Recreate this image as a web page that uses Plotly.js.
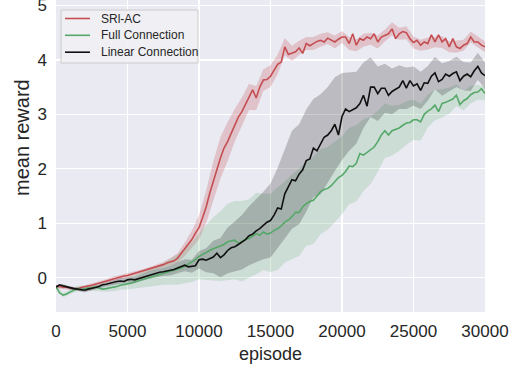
<!DOCTYPE html>
<html>
<head>
<meta charset="utf-8">
<script src="https://cdn.plot.ly/plotly-3.0.1.min.js"></script>
<style>html,body{margin:0;padding:0;background:#fff;}#chart{width:520px;height:365px;}</style>
</head>
<body>
<div id="chart"></div>
<script>
// episode grid for the mean curves (every 250 episodes) and the bands (every 500)
const STEP = 250;
const seriesNames = ["SRl-AC", "Full Connection", "Linear Connection"];
const xTickVals = [0, 5000, 10000, 15000, 20000, 25000, 30000];
const xTickText = ["0", "5000", "10000", "15000", "20000", "25000", "30000"];
const yTickVals = [0, 1, 2, 3, 4, 5];
const yTickText = ["0", "1", "2", "3", "4", "5"];

const srlMean = [
 -0.17,-0.15,-0.18,-0.17,-0.19,-0.20,-0.21,-0.18,-0.17,-0.16,
 -0.14,-0.12,-0.10,-0.08,-0.06,-0.04,-0.02,0.00,0.01,0.03,
 0.04,0.06,0.08,0.10,0.11,0.13,0.15,0.17,0.19,0.22,
 0.24,0.27,0.29,0.31,0.36,0.44,0.52,0.60,0.70,0.82,
 0.92,1.10,1.30,1.55,1.78,2.00,2.20,2.38,2.50,2.65,
 2.80,2.95,3.05,3.18,3.32,3.45,3.30,3.50,3.63,3.64,
 3.70,3.82,3.92,3.96,4.24,4.10,4.12,4.15,4.22,4.12,
 4.30,4.26,4.30,4.34,4.36,4.33,4.40,4.36,4.33,4.38,
 4.42,4.42,4.30,4.48,4.27,4.39,4.36,4.42,4.39,4.48,
 4.33,4.42,4.45,4.48,4.57,4.39,4.48,4.52,4.50,4.39,
 4.32,4.36,4.27,4.33,4.30,4.46,4.33,4.46,4.33,4.39,
 4.24,4.39,4.24,4.21,4.27,4.30,4.42,4.33,4.33,4.27,
 4.24];
const fullMean = [
 -0.17,-0.28,-0.32,-0.30,-0.26,-0.23,-0.20,-0.22,-0.20,-0.19,
 -0.19,-0.17,-0.19,-0.21,-0.20,-0.19,-0.18,-0.16,-0.14,-0.13,
 -0.11,-0.10,-0.08,-0.06,-0.05,-0.03,-0.01,0.01,0.03,0.05,
 0.07,0.09,0.11,0.13,0.15,0.18,0.21,0.25,0.28,0.33,
 0.39,0.43,0.46,0.50,0.53,0.56,0.58,0.61,0.66,0.67,
 0.69,0.63,0.67,0.70,0.72,0.77,0.81,0.78,0.84,0.80,
 0.82,0.87,0.90,0.95,1.02,1.06,1.12,1.20,1.20,1.30,
 1.36,1.40,1.42,1.50,1.58,1.62,1.64,1.69,1.76,1.84,
 1.88,1.95,2.05,2.04,2.10,2.28,2.25,2.30,2.34,2.40,
 2.50,2.62,2.70,2.62,2.70,2.72,2.75,2.80,2.84,2.85,
 2.90,2.90,2.86,3.00,3.06,3.10,3.17,3.05,3.20,3.22,
 3.25,3.28,3.35,3.18,3.25,3.29,3.36,3.40,3.41,3.47,
 3.38];
const linearMean = [
 -0.17,-0.13,-0.15,-0.17,-0.19,-0.20,-0.21,-0.22,-0.23,-0.21,
 -0.20,-0.18,-0.16,-0.13,-0.12,-0.10,-0.09,-0.07,-0.06,-0.07,
 -0.04,-0.03,-0.04,-0.02,0.01,0.03,0.05,0.06,0.08,0.10,
 0.11,0.12,0.13,0.15,0.18,0.21,0.23,0.20,0.21,0.22,
 0.33,0.34,0.32,0.35,0.38,0.45,0.37,0.42,0.50,0.55,
 0.57,0.61,0.65,0.70,0.77,0.80,0.86,0.90,0.96,1.02,
 1.05,1.15,1.28,1.26,1.54,1.66,1.80,1.78,1.90,1.98,
 2.15,2.18,2.38,2.33,2.45,2.58,2.62,2.70,2.82,2.62,
 2.96,3.10,3.05,3.08,3.12,3.20,3.35,3.15,3.50,3.50,
 3.38,3.48,3.48,3.35,3.42,3.46,3.50,3.62,3.48,3.62,
 3.52,3.56,3.44,3.58,3.57,3.70,3.76,3.60,3.64,3.74,
 3.70,3.75,3.78,3.62,3.70,3.74,3.69,3.80,3.88,3.76,
 3.71];

// band half-widths, one every 500 episodes
const srlSpread = [
 0.03,0.03,0.03,0.03,0.03,0.03,0.03,0.03,0.04,0.04,
 0.04,0.04,0.04,0.04,0.05,0.05,0.07,0.09,0.12,0.16,
 0.22,0.30,0.36,0.38,0.36,0.30,0.26,0.24,0.22,0.20,
 0.20,0.18,0.16,0.14,0.13,0.12,0.12,0.12,0.11,0.12,
 0.11,0.12,0.11,0.12,0.11,0.12,0.11,0.12,0.11,0.12,
 0.11,0.10,0.11,0.10,0.11,0.10,0.11,0.10,0.10,0.10,
 0.10];
const fullSpread = [
 0.03,0.04,0.04,0.05,0.05,0.05,0.06,0.06,0.07,0.08,
 0.10,0.12,0.14,0.16,0.18,0.20,0.24,0.28,0.32,0.36,
 0.42,0.50,0.58,0.64,0.70,0.72,0.74,0.72,0.75,0.70,
 0.72,0.76,0.74,0.78,0.80,0.78,0.80,0.78,0.76,0.74,
 0.72,0.70,0.70,0.66,0.62,0.56,0.50,0.46,0.42,0.40,
 0.37,0.34,0.30,0.28,0.26,0.24,0.20,0.18,0.16,0.14,
 0.12];
const linearSpread = [
 0.03,0.03,0.03,0.03,0.04,0.04,0.04,0.04,0.05,0.05,
 0.05,0.06,0.06,0.07,0.07,0.08,0.09,0.10,0.11,0.12,
 0.16,0.22,0.30,0.36,0.42,0.46,0.50,0.54,0.58,0.62,
 0.68,0.74,0.82,0.90,0.92,0.94,0.90,0.92,0.88,0.86,
 0.80,0.72,0.66,0.60,0.55,0.50,0.45,0.42,0.40,0.38,
 0.36,0.34,0.32,0.30,0.30,0.28,0.28,0.26,0.26,0.25,
 0.24];

const colors = ["#C44E52", "#55A868", "#111111"];
const fills = ["rgba(196,78,82,0.25)", "rgba(85,168,104,0.20)", "rgba(0,0,0,0.20)"];

const ep = srlMean.map((_, i) => i * STEP);
function band(mean, spread, fill) {
  const bx = [], hi = [], lo = [];
  spread.forEach((s, k) => { bx.push(ep[2 * k]); hi.push(mean[2 * k] + s); lo.push(mean[2 * k] - s); });
  return {x: bx.concat(bx.slice().reverse()), y: hi.concat(lo.slice().reverse()),
    type: "scatter", mode: "lines", fill: "toself", fillcolor: fill,
    line: {width: 0}, hoverinfo: "skip", showlegend: false};
}
function line(mean, name, color) {
  return {x: ep, y: mean, type: "scatter", mode: "lines", name: name,
    line: {color: color, width: 1.6}, showlegend: false};
}
const means = [srlMean, fullMean, linearMean];
const spreads = [srlSpread, fullSpread, linearSpread];
const traces = [];
for (let i = 0; i < 3; i++) traces.push(band(means[i], spreads[i], fills[i]));
for (let i = 0; i < 3; i++) traces.push(line(means[i], seriesNames[i], colors[i]));

// plot box in pixels: left 56, right 485, top 0, bottom 312
const L = 56, R = 485, T = 0, B = 312;
const px = v => (v - L) / (R - L);
const py = v => (B - v) / (B - T);

const font = {family: "Liberation Sans, Arial, sans-serif", color: "#262626"};
const shapes = [{type: "rect", xref: "paper", yref: "paper", x0: px(61), x1: px(198), y0: py(63), y1: py(10),
  fillcolor: "rgba(240,240,245,0.85)", line: {color: "#CCCCCC", width: 1}, layer: "above"}];
const annotations = [];
const rowY = [18.5, 35.3, 52.2];
for (let i = 0; i < 3; i++) {
  shapes.push({type: "line", xref: "paper", yref: "paper", x0: px(65), x1: px(90), y0: py(rowY[i]), y1: py(rowY[i]),
    line: {color: colors[i], width: 1.6}, layer: "above"});
  annotations.push({xref: "paper", yref: "paper", x: px(99), y: py(rowY[i]), xanchor: "left", yanchor: "middle",
    text: seriesNames[i], showarrow: false, font: Object.assign({size: 12}, font)});
}
annotations.push({xref: "paper", yref: "paper", x: px(22), y: py(138), xanchor: "center", yanchor: "middle",
  text: "mean reward", textangle: -90, showarrow: false, font: Object.assign({size: 20}, font)});

const layout = {
  width: 520, height: 365,
  margin: {l: L, r: 520 - R, t: T, b: 365 - B, pad: 0},
  paper_bgcolor: "#ffffff", plot_bgcolor: "#EAEAF2",
  font: Object.assign({size: 17}, font),
  showlegend: false,
  shapes: shapes, annotations: annotations,
  xaxis: {range: [0, 30000], tickvals: xTickVals, ticktext: xTickText, ticks: "", showgrid: true,
    gridcolor: "#ffffff", gridwidth: 1.3, zeroline: false, showline: false,
    tickfont: Object.assign({size: 17}, font), ticklabelstandoff: 7,
    title: {text: "episode", font: Object.assign({size: 18}, font), standoff: 7}},
  yaxis: {range: [-0.63, 5.1], tickvals: yTickVals, ticktext: yTickText, ticks: "", showgrid: true,
    gridcolor: "#ffffff", gridwidth: 1.3, zeroline: false, showline: false,
    ticklabeloverflow: "allow",
    tickfont: Object.assign({size: 17}, font), ticklabelstandoff: 8}
};
Plotly.newPlot("chart", traces, layout, {displayModeBar: false, staticPlot: true});
</script>
</body>
</html>
